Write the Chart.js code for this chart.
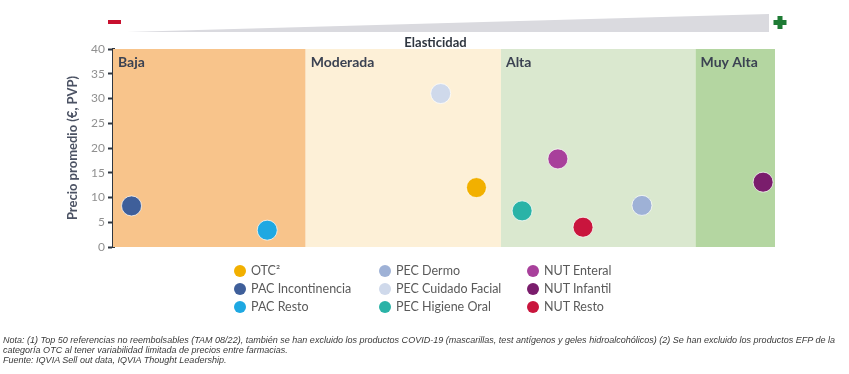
<!DOCTYPE html>
<html>
<head>
<meta charset="utf-8">
<script src="https://cdn.jsdelivr.net/npm/chart.js@4.4.1/dist/chart.umd.min.js"></script>
<style>
  html, body { margin:0; padding:0; background:#fff; }
  #wrap { position:relative; width:849px; height:374px; overflow:hidden; }
  #c { position:absolute; left:0; top:0; }
  .lg { position:absolute; font-family:Lato, "Open Sans", sans-serif; font-size:12.5px; color:#5a5a5a; white-space:nowrap; line-height:14px; }
  .lg i { position:absolute; width:12px; height:12px; border-radius:50%; }
  .fn { position:absolute; left:3px; font-family:"Liberation Sans Narrow","Liberation Sans",Arial,sans-serif; font-style:italic; font-size:9px; color:#3a3a3a; white-space:nowrap; line-height:10px; transform-origin:0 50%; }
</style>
</head>
<body>
<div id="wrap">
<canvas id="c" width="849" height="374"></canvas>
</div>
<script>
// ---- data ----
const seriesNames = ["OTC²","PAC Incontinencia","PAC Resto","PEC Dermo","PEC Cuidado Facial","PEC Higiene Oral","NUT Enteral","NUT Infantil","NUT Resto"];
const elasticityPos = [54.9, 2.8, 23.3, 79.9, 49.5, 61.8, 67.2, 98.2, 71.0];
const avgPrice      = [12.0, 8.3, 3.4, 8.4, 31.0, 7.3, 17.8, 13.1, 4.0];
const seriesColors  = ["#F2B000","#3F5F9A","#1EA8E2","#9EB1D6","#CFD9EB","#2AB3A7","#A8409B","#7A1D6C","#C9153D"];
const legendOrder   = [[0,1,2],[3,4,5],[6,7,8]];
const bandNames  = ["Baja","Moderada","Alta","Muy Alta"];
const bandStart  = [0, 29.1, 58.6, 88.0];
const bandEnd    = [29.1, 58.6, 88.0, 100];
const bandColors = ["#F8C48B","#FDF0D7","#DAE8CF","#B4D6A1"];
const yTicks = [0,5,10,15,20,25,30,35,40];

const bandsPlugin = {
  id:'bands',
  beforeDatasetsDraw(chart){
    const {ctx, chartArea:a, scales:{x}} = chart;
    ctx.save();
    bandNames.forEach((n,i)=>{
      const x0 = x.getPixelForValue(bandStart[i]), x1 = x.getPixelForValue(bandEnd[i]);
      ctx.fillStyle = bandColors[i];
      ctx.fillRect(x0, a.top, x1-x0, a.bottom-a.top);
    });
    ctx.fillStyle = '#3b4252';
    ctx.font = 'bold 14px Lato, "Open Sans", sans-serif';
    ctx.textBaseline = 'middle';
    ctx.textAlign = 'left';
    bandNames.forEach((n,i)=>{
      const x0 = x.getPixelForValue(bandStart[i]);
      ctx.fillText(n, x0 + 5, a.top + 13);
    });
    // header: wedge, minus, plus, title
    ctx.fillStyle = '#DADADF';
    ctx.beginPath();
    ctx.moveTo(a.left + 14, a.top - 17);
    ctx.lineTo(a.right - 6, a.top - 35);
    ctx.lineTo(a.right - 6, a.top - 17);
    ctx.closePath();
    ctx.fill();
    ctx.fillStyle = '#C8102E';
    ctx.fillRect(a.left - 5, a.top - 29, 13, 4);
    ctx.fillStyle = '#1E7B34';
    const px = a.right + 5, py = a.top - 26.5;
    ctx.fillRect(px - 6.5, py - 2.5, 13, 5);
    ctx.fillRect(px - 2.5, py - 6.5, 5, 13);
    ctx.fillStyle = '#2f3640';
    ctx.font = 'bold 13px Lato, "Open Sans", sans-serif';
    ctx.textAlign = 'center';
    ctx.fillText('Elasticidad', 435.5, a.top - 6);
    ctx.restore();
  }
};

const datasets = seriesNames.map((n,i)=>({
  label:n,
  data:[{x:elasticityPos[i], y:avgPrice[i]}],
  backgroundColor:seriesColors[i],
  borderColor:'rgba(255,255,255,0.7)',
  borderWidth:1,
  pointRadius:10,
  pointHoverRadius:10
}));

new Chart(document.getElementById('c'), {
  type:'scatter',
  data:{datasets},
  plugins:[bandsPlugin],
  options:{
    responsive:false,
    animation:false,
    devicePixelRatio:1,
    layout:{padding:{left:60, top:49, right:74, bottom:127}},
    plugins:{legend:{display:false}, tooltip:{enabled:false}},
    scales:{
      x:{type:'linear', min:0, max:100, display:false},
      y:{
        type:'linear', min:0, max:40,
        afterFit(s){ s.width = 53; },
        afterBuildTicks(s){ s.ticks = yTicks.map(v=>({value:v})); },
        ticks:{color:'#909090', font:{family:'Lato, "Open Sans", sans-serif', size:12}, padding:3},
        grid:{display:true, drawOnChartArea:false, drawTicks:true, tickLength:5, tickWidth:2, tickColor:'#2f3640'},
        border:{display:true, color:'#2f3640', width:3},
        title:{display:true, text:'Precio promedio (€, PVP)', color:'#4b5263', font:{family:'Lato, "Open Sans", sans-serif', size:13, weight:'bold'}, padding:{top:5,bottom:0}}
      }
    }
  }
});

// legend (HTML)
const wrap = document.getElementById('wrap');
const colX = [240, 385, 533];
const rowY = [270.5, 288.5, 306.5];
legendOrder.forEach((col,ci)=>col.forEach((idx,ri)=>{
  const d = document.createElement('div');
  d.className = 'lg';
  d.style.left = (colX[ci] + 11) + 'px';
  d.style.top = (rowY[ri] - 7) + 'px';
  const dot = document.createElement('i');
  dot.style.background = seriesColors[idx];
  dot.style.left = '-17px';
  dot.style.top = '1px';
  d.appendChild(dot);
  d.appendChild(document.createTextNode(seriesNames[idx]));
  wrap.appendChild(d);
}));

// footnote
const notes = [
  "Nota: (1) Top 50 referencias no reembolsables (TAM 08/22), también se han excluido los productos COVID-19 (mascarillas, test antígenos y geles hidroalcohólicos) (2) Se han excluido los productos EFP de la",
  "categoría OTC al tener variabilidad limitada de precios entre farmacias.",
  "Fuente: IQVIA Sell out data, IQVIA Thought Leadership."
];
const noteY = [340, 350, 360];
const els = notes.map((t,i)=>{
  const d = document.createElement('div');
  d.className = 'fn';
  d.textContent = t;
  d.style.top = (noteY[i]-5) + 'px';
  wrap.appendChild(d);
  return d;
});
const sc = 832 / els[0].getBoundingClientRect().width;
els.forEach(e=>{ e.style.transform = 'scaleX(' + sc + ')'; });
</script>
</body>
</html>
